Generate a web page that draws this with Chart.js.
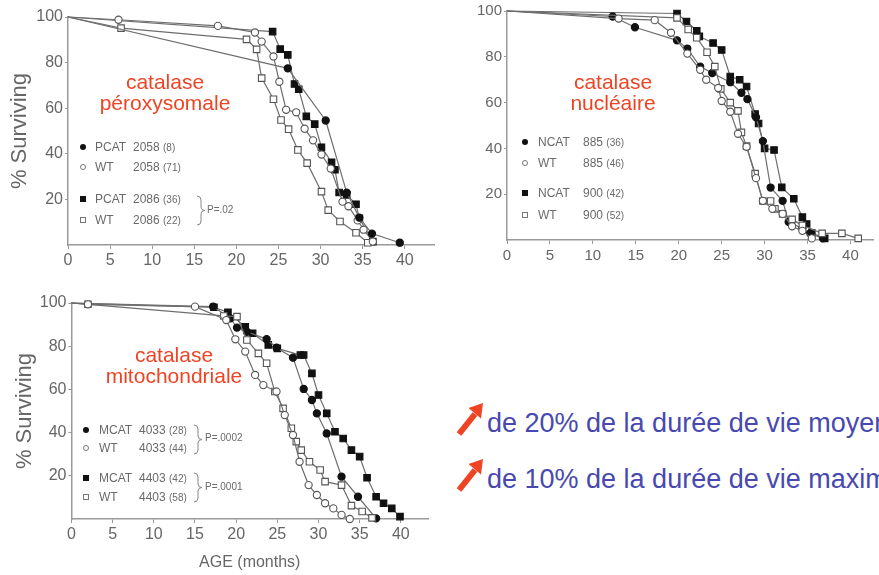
<!DOCTYPE html>
<html>
<head>
<meta charset="utf-8">
<script src="https://cdn.jsdelivr.net/npm/chart.js@4.4.0/dist/chart.umd.min.js"></script>
<style>
  body { margin: 0; width: 879px; height: 575px; overflow: hidden; background: #fff; position: relative;
         font-family: "Liberation Sans", Arial, sans-serif; }
  canvas { position: absolute; }
  .lbl { position: absolute; color: #ee4423; font-size: 21px; line-height: 21px; text-align: center; }
  .row { position: absolute; height: 14px; line-height: 14px; font-size: 12px; color: #6a6a6a; white-space: nowrap; }
  .row small { font-size: 10px; }
  .row .nm { position: absolute; }
  .row .num { position: absolute; }
  .mk { position: absolute; top: 4px; left: 2px; width: 6px; height: 6px; box-sizing: border-box; }
  .fc { background: #111; border-radius: 50%; }
  .oc { border: 1px solid #777; border-radius: 50%; }
  .fs { background: #111; }
  .os { border: 1px solid #777; }
  .pv { position: absolute; font-size: 10px; color: #6a6a6a; white-space: nowrap; }
  .brace { position: absolute; }
  .note { position: absolute; left: 487px; color: #4749b0; font-size: 27px; line-height: 30px; white-space: nowrap; }
  .arrow { position: absolute; left: 455px; }
</style>
</head>
<body>
<canvas id="perox" width="440" height="280" style="left:0;top:0"></canvas>
<canvas id="nucl" width="419" height="275" style="left:460px;top:0"></canvas>
<canvas id="mito" width="440" height="285" style="left:0;top:290px"></canvas>

<div class="lbl" style="left:95px;top:71px;width:140px">catalase<br>péroxysomale</div>
<div class="lbl" style="left:543px;top:71px;width:140px">catalase<br>nucléaire</div>
<div class="lbl" style="left:94px;top:345px;width:160px;line-height:20.5px">catalase<br>mitochondriale</div>

<!-- legend: péroxysomale -->
<div class="row" style="left:78px;top:140px"><i class="mk fc"></i><span class="nm" style="left:17px">PCAT</span><span class="num" style="left:55px">2058 <small>(8)</small></span></div>
<div class="row" style="left:78px;top:160px"><i class="mk oc"></i><span class="nm" style="left:17px">WT</span><span class="num" style="left:55px">2058 <small>(71)</small></span></div>
<div class="row" style="left:78px;top:192px"><i class="mk fs"></i><span class="nm" style="left:17px">PCAT</span><span class="num" style="left:55px">2086 <small>(36)</small></span></div>
<div class="row" style="left:78px;top:213px"><i class="mk os"></i><span class="nm" style="left:17px">WT</span><span class="num" style="left:55px">2086 <small>(22)</small></span></div>
<svg class="brace" style="left:196px;top:195px" width="10" height="31"><path d="M1,1 Q5,1 5,5 L5,12 Q5,15.5 9,15.5 Q5,15.5 5,19 L5,26 Q5,30 1,30" fill="none" stroke="#888" stroke-width="1"/></svg>
<div class="pv" style="left:207px;top:204px">P=.02</div>

<!-- legend: nucléaire -->
<div class="row" style="left:520px;top:135px"><i class="mk fc"></i><span class="nm" style="left:18px">NCAT</span><span class="num" style="left:63px">885 <small>(36)</small></span></div>
<div class="row" style="left:520px;top:156px"><i class="mk oc"></i><span class="nm" style="left:18px">WT</span><span class="num" style="left:63px">885 <small>(46)</small></span></div>
<div class="row" style="left:520px;top:186px"><i class="mk fs"></i><span class="nm" style="left:18px">NCAT</span><span class="num" style="left:63px">900 <small>(42)</small></span></div>
<div class="row" style="left:520px;top:208px"><i class="mk os"></i><span class="nm" style="left:18px">WT</span><span class="num" style="left:63px">900 <small>(52)</small></span></div>

<!-- legend: mitochondriale -->
<div class="row" style="left:81px;top:423px"><i class="mk fc"></i><span class="nm" style="left:18px">MCAT</span><span class="num" style="left:58px">4033 <small>(28)</small></span></div>
<div class="row" style="left:81px;top:441px"><i class="mk oc"></i><span class="nm" style="left:18px">WT</span><span class="num" style="left:58px">4033 <small>(44)</small></span></div>
<div class="row" style="left:81px;top:471px"><i class="mk fs"></i><span class="nm" style="left:18px">MCAT</span><span class="num" style="left:58px">4403 <small>(42)</small></span></div>
<div class="row" style="left:81px;top:490px"><i class="mk os"></i><span class="nm" style="left:18px">WT</span><span class="num" style="left:58px">4403 <small>(58)</small></span></div>
<svg class="brace" style="left:193px;top:424px" width="10" height="31"><path d="M1,1 Q5,1 5,5 L5,12 Q5,15.5 9,15.5 Q5,15.5 5,19 L5,26 Q5,30 1,30" fill="none" stroke="#888" stroke-width="1"/></svg>
<div class="pv" style="left:205px;top:432px">P=.0002</div>
<svg class="brace" style="left:193px;top:472px" width="10" height="31"><path d="M1,1 Q5,1 5,5 L5,12 Q5,15.5 9,15.5 Q5,15.5 5,19 L5,26 Q5,30 1,30" fill="none" stroke="#888" stroke-width="1"/></svg>
<div class="pv" style="left:205px;top:481px">P=.0001</div>

<!-- notes -->
<svg class="arrow" style="top:400px" width="32" height="38"><line x1="4" y1="34" x2="20" y2="14" stroke="#ee4423" stroke-width="6"/><polygon points="28,3 26,18.5 13.5,8" fill="#ee4423"/></svg>
<div class="note" style="top:408px">de 20% de la durée de vie moyenne</div>
<svg class="arrow" style="top:456px" width="32" height="38"><line x1="4" y1="34" x2="20" y2="14" stroke="#ee4423" stroke-width="6"/><polygon points="28,3 26,18.5 13.5,8" fill="#ee4423"/></svg>
<div class="note" style="top:464px">de 10% de la durée de vie maximale</div>

<script>
// --- tick labels ---
const xTicks = [0, 5, 10, 15, 20, 25, 30, 35, 40];
const yTicks = [20, 40, 60, 80, 100];

// --- catalase péroxysomale : [age (months), % surviving] ---
const pcat2058 = [[0,100],[26.1,77.5],[30.6,54.6],[33.1,23],[34.6,12],[36.1,5],[39.4,1]];
const wt2058 = [[0,100],[6,98.8],[17.8,96.1],[22.2,93.2],[23,89.2],[24.4,82.7],[25.1,71.6],[25.9,59.3],[27.1,58.2],
  [28.1,51],[29.1,45.9],[30.1,39.7],[31.2,33.5],[32.6,19],[33.3,17],[34.4,10.8],[35.1,6.7],[36.2,1.5]];
const pcat2086 = [[0,100],[24.3,93.6],[25.2,85.9],[26.1,83.4],[26.9,70.6],[27.4,68.3],[28.3,56.4],[29.3,53],[30.1,42.9],
  [31.3,36.3],[31.7,33],[32.2,23],[33.1,22],[34.2,17.9],[34.6,11.7],[36.2,1.5]];
const wt2086 = [[0,100],[6.3,95.1],[21.2,90.2],[22.4,85.8],[23,73.2],[24.4,63.9],[25.3,54.8],[26.2,50.8],[27.3,41.7],
  [28.4,35.9],[30.1,23.4],[30.9,15.3],[32.3,10.3],[34.2,5.4],[35.6,1]];

// --- catalase nucléaire ---
const ncat885 = [[0,100],[12.3,97.6],[14.9,92.9],[19.8,87.2],[21,83.6],[22.5,75.7],[23.9,72.9],[26,68.9],[27.3,64.3],
  [28,61.5],[29,53.6],[29.8,43.2],[30.7,22.9],[32.1,17.1],[32.8,7.9],[34.4,5],[35.3,2.9],[36.8,0.7]];
const wt885 = [[0,100],[13,96.7],[17.2,96],[19.1,90.5],[21,81.4],[22.5,74.3],[23.2,70],[24.6,66.4],[25,60.7],[26,56],
  [26.9,46.4],[27.9,40.7],[29,27],[29.8,17.1],[30.9,13.6],[32.1,11.4],[33.2,6],[34.4,4],[35.5,0.7]];
const ncat900 = [[0,100],[19.8,98.9],[20.9,95.4],[22.1,91.4],[22.4,88.9],[24,86],[25,83],[26,71.4],[27.1,70],[27.9,67],
  [28.9,55],[29.3,50.9],[30,40],[31.1,39.3],[32,23],[33.4,18],[34.4,10],[34.9,7],[35.5,3],[37,0.7]];
const wt900 = [[0,100],[19.8,97],[21.1,91.9],[22.1,88.3],[23.3,82],[24.2,75.7],[24.9,66],[26,60],[26.9,56.4],[27.3,47],
  [27.9,41],[28.9,29],[29.8,17],[30.7,17],[31.2,13.6],[32.1,11.4],[33.2,9],[34.4,6.4],[36.7,2.9],[39,2.9],[40.9,0.7]];

// --- catalase mitochondriale ---
const mcat4033 = [[0,100],[17.2,98.3],[19.3,92.9],[20.1,88.6],[21.3,86.7],[23.7,83.3],[24.9,79.3],[26.9,74.7],[28.2,60.2],
  [29.2,55.1],[29.8,48.9],[31,39.6],[32.8,19.6],[34.8,10.3],[37,0.3]];
const wt4033 = [[0,100],[2,99.4],[15,98.3],[18.8,92.1],[19.9,83.2],[21.1,77.5],[22.3,66.7],[23.3,62],[24.9,59],[25.9,48.1],
  [26.9,38.9],[27.7,26.5],[28.8,15.7],[29.8,11.1],[30.8,7.3],[31.8,4.9],[32.8,1.9],[33.8,0]];
const mcat4403 = [[0,100],[17.3,98],[19,95.7],[21.1,89],[22,86],[23.9,80.6],[25,79],[27.8,75.9],[28.2,75.9],[29.2,67.4],
  [30,57.4],[31,48.9],[32,40.4],[33,37.3],[34,31.9],[35,28.9],[35.9,19.1],[37,10.3],[37.9,7.3],[38.9,4.9],[39.9,1.1]];
const wt4403 = [[0,100],[2,99.4],[18.5,94],[20.1,93.7],[21.3,82.9],[22.7,76.7],[23.7,72.1],[24.7,59],[25.7,51.2],[26.7,42],
  [27.3,35.8],[27.9,31.9],[28.9,26.5],[30.2,22.7],[30.8,17.3],[32.8,15.7],[34,6.2],[35.3,3.5],[36.5,0.5]];

// --- dataset style ---
function series(points, filled, shape) {
  return {
    data: points.map(([x, y]) => ({ x, y })),
    showLine: true,
    borderColor: '#6e6e6e',
    borderWidth: 1.2,
    pointStyle: shape,
    pointRadius: ctx => ctx.dataIndex === 0 ? 0 : (shape === 'rect' ? 4.6 : 3.6),
    pointBackgroundColor: filled ? '#111' : '#fff',
    pointBorderColor: filled ? '#111' : '#555',
    pointBorderWidth: 1.1,
    clip: false
  };
}

// --- one survival panel ---
function makeChart(id, datasets, o) {
  const tickFont = { family: 'Liberation Sans', size: o.tickSize };
  new Chart(document.getElementById(id), {
    type: 'scatter',
    data: { datasets },
    options: {
      responsive: false,
      animation: false,
      layout: { padding: { top: o.top, right: o.right, left: 0, bottom: 0 } },
      plugins: { legend: { display: false }, tooltip: { enabled: false } },
      scales: {
        x: {
          type: 'linear', min: 0, max: o.xMax,
          afterBuildTicks: s => { s.ticks = xTicks.map(v => ({ value: v })); },
          afterFit: s => { s.height = o.xH; },
          grid: { drawOnChartArea: false, tickLength: 4, color: '#999' },
          border: { color: '#999', width: 1.5 },
          ticks: { color: '#666', font: tickFont, padding: o.xPad, maxRotation: 0, autoSkip: false },
          title: o.xTitle
            ? { display: true, text: o.xTitle, color: '#666', font: { family: 'Liberation Sans', size: 16 }, padding: { top: 0, bottom: 3 } }
            : { display: false }
        },
        y: {
          min: 0, max: 100,
          afterBuildTicks: s => { s.ticks = yTicks.map(v => ({ value: v })); },
          afterFit: s => { s.width = o.left; },
          grid: { drawOnChartArea: false, tickLength: 3, color: '#999' },
          border: { color: '#999', width: 1.5 },
          ticks: { color: '#666', font: tickFont, padding: 2 },
          title: o.yTitle
            ? { display: true, text: o.yTitle, color: '#666', font: { family: 'Liberation Sans', size: 22 }, padding: { top: o.yTitlePad, bottom: 0 } }
            : { display: false }
        }
      }
    }
  });
}

makeChart('perox', [
  series(pcat2058, true, 'circle'),
  series(wt2058, false, 'circle'),
  series(wt2086, false, 'rect'),
  series(pcat2086, true, 'rect')
], { top: 17, right: 5, left: 68, xH: 35, xMax: 43.5, xPad: 2, tickSize: 16, yTitle: '% Surviving', yTitlePad: 7 });

makeChart('nucl', [
  series(wt885, false, 'circle'),
  series(wt900, false, 'rect'),
  series(ncat885, true, 'circle'),
  series(ncat900, true, 'rect')
], { top: 10, right: 0, left: 47, xH: 35, xMax: 42.66, xPad: 3, tickSize: 15 });

makeChart('mito', [
  series(wt4033, false, 'circle'),
  series(wt4403, false, 'rect'),
  series(mcat4033, true, 'circle'),
  series(mcat4403, true, 'rect')
], { top: 13, right: 12, left: 71.5, xH: 56, xMax: 43.3, xPad: 2, tickSize: 16, xTitle: 'AGE (months)', yTitle: '% Surviving', yTitlePad: 12 });
</script>
</body>
</html>
